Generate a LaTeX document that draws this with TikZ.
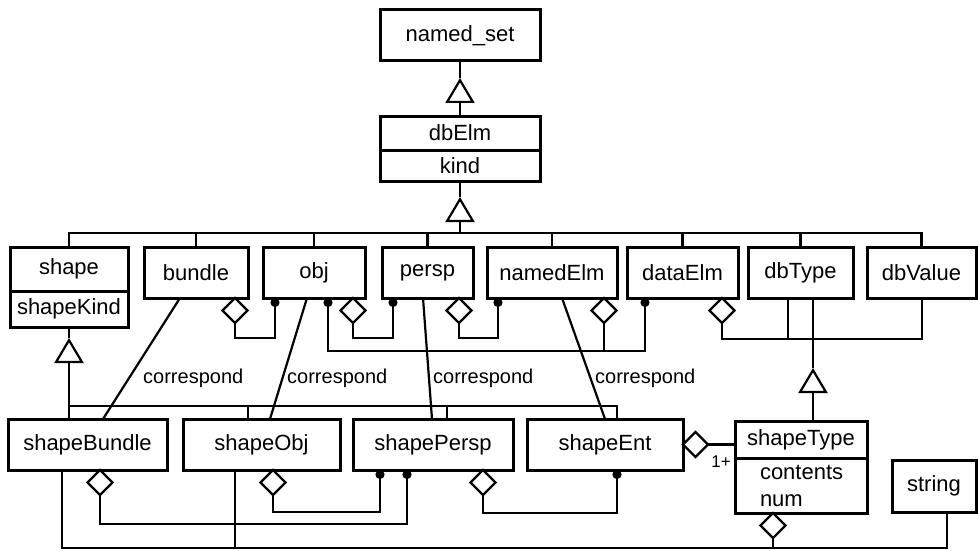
\documentclass[tikz,border=0pt]{standalone}
\usepackage{fontspec}
\setmainfont{Liberation Sans}
\usetikzlibrary{arrows.meta, shapes.geometric, positioning}

\begin{document}
\begin{tikzpicture}[x=1pt, y=-1pt, font=\fontsize{22}{27}\selectfont,
  cls/.style={draw, line width=3pt, inner sep=2pt, outer sep=0pt, minimum height=51pt},
  agg/.style={draw, diamond, aspect=1, line width=2.2pt, inner sep=0pt, outer sep=0pt, minimum width=25pt, minimum height=25pt},
  con/.style={line width=2.2pt},
  dot/.style={con, -{Circle[length=9pt]}},
  gen/.style={con, -{Triangle[open, length=25pt, width=29pt]}},
  corr/.style={font=\fontsize{20}{24}\selectfont, inner sep=1pt, anchor=west}]

\useasboundingbox (0,0) rectangle (978,551);

\node[cls, minimum width=160pt] (namedSet) at (460,35.5) {named\_set};
\node[cls, minimum width=160pt, minimum height=34pt] (dbElm) at (460,133) {dbElm};
\node[cls, minimum width=160pt, minimum height=31pt, below=0pt of dbElm] (kind) {kind};

\node[cls, minimum width=118pt, minimum height=44pt] (shape) at (69,269) {shape};
\node[cls, minimum width=118pt, minimum height=36pt, below=0pt of shape] (shapeKind) {shapeKind};
\node[cls, minimum width=104pt] (bundle) at (196,272.5) {bundle};
\node[cls, minimum width=102pt] (obj) at (314,272.5) {obj};
\node[cls, minimum width=91pt] (persp) at (427.5,272.5) {persp};
\node[cls, minimum width=130pt] (namedElm) at (552,272.5) {namedElm};
\node[cls, minimum width=111pt] (dataElm) at (682.5,272.5) {dataElm};
\node[cls, minimum width=105pt] (dbType) at (800.5,272.5) {dbType};
\node[cls, minimum width=109pt] (dbValue) at (921.5,272.5) {dbValue};

\node[cls, minimum width=159pt] (shapeBundle) at (87.5,444.5) {shapeBundle};
\node[cls, minimum width=157pt] (shapeObj) at (261.5,444.5) {shapeObj};
\node[cls, minimum width=160pt] (shapePersp) at (433,444.5) {shapePersp};
\node[cls, minimum width=156pt] (shapeEnt) at (605,444.5) {shapeEnt};
\node[cls, minimum width=132pt, minimum height=37pt] (shapeType) at (801,439.5) {shapeType};
\node[cls, minimum width=132pt, minimum height=55pt, text width=82pt, inner xsep=25pt, align=left, below=0pt of shapeType] (contents) {contents\\num};
\node[cls, minimum width=84pt, minimum height=52pt] (string) at (934,486) {string};

% named_set <- dbElm
\draw[con] (namedSet.south) -- ++(0,17) coordinate (t1);
\draw[gen] (dbElm.north) -- (t1);

% dbElm <- first row
\draw[con] (kind.south) -- ++(0,16) coordinate (t2);
\draw[gen] (kind.south |- 0,233) -- (t2);
\draw[con] (shape.north) -- ++(0,-14) -| (dbValue.north);
\foreach \n in {bundle, obj, persp, namedElm, dataElm, dbType}
  \draw[con] (\n.north) -- ++(0,-14);

% aggregations, first row
\node[agg, anchor=north] (aBundle) at (bundle.south -| 235,0) {};
\draw[dot] (aBundle.south) -- ++(0,15) -| (obj.south -| 275,0); %bundle-obj
\node[agg, anchor=north] (aObj) at (obj.south -| 353,0) {};
\draw[dot] (aObj.south) -- ++(0,15) -| (persp.south -| 393,0); %obj-persp
\node[agg, anchor=north] (aPersp) at (persp.south -| 459,0) {};
\draw[dot] (aPersp.south) -- ++(0,15) -| (namedElm.south -| 498,0); %persp-namedElm
\node[agg, anchor=north] (aNamed) at (namedElm.south -| 604,0) {};
\draw[con] (aNamed.south) -- ++(0,28) coordinate (b1);
\draw[dot] (b1) -| (obj.south -| 328,0); %namedElm-obj
\draw[dot] (b1) -| (dataElm.south -| 645,0); %namedElm-dataElm
\node[agg, anchor=north] (aData) at (dataElm.south -| 722,0) {};
\draw[con] (aData.south) -- ++(0,16) coordinate (b2) -| (dbValue.south -| 922,0); %dataElm-dbValue
\draw[con] (dbType.south -| 788,0) -- (b2 -| 788,0); %dataElm-dbType

% dbType <- shapeType
\draw[con] (dbType.south -| 813,0) -- ++(0,70) coordinate (t3);
\draw[gen] (shapeType.north -| 813,0) -- (t3);

% shape <- second row
\draw[con] (shapeKind.south) -- ++(0,11) coordinate (t4);
\draw[gen] (shapeBundle.north -| t4) -- (t4);
\draw[con] (t4 |- 0,406) -| (shapeEnt.north -| 617,0);
\draw[con] (shapeObj.north -| 248,0) -- ++(0,-13);
\draw[con] (shapePersp.north -| 447,0) -- ++(0,-13);

% correspond
\draw[con] (bundle.south -| 180,0) -- (shapeBundle.north -| 103,0);
\draw[con] (obj.south -| 307,0) -- (shapeObj.north -| 270,0);
\draw[con] (persp.south -| 423,0) -- (shapePersp.north -| 432,0);
\draw[con] (namedElm.south -| 562,0) -- (shapeEnt.north);
\node[corr] (cBundle) at (142,378) {correspond};
\node[corr] (cObj) at (286,378) {correspond};
\node[corr] (cPersp) at (432,378) {correspond};
\node[corr] (cEnt) at (594,378) {correspond};

% aggregations, second row
\node[agg, anchor=north] (aSBundle) at (shapeBundle.south -| 100,0) {};
\draw[dot] (aSBundle.south) -- ++(0,29) -| (shapePersp.south -| 407,0); %shapeBundle-shapePersp
\node[agg, anchor=north] (aSObj) at (shapeObj.south -| 273,0) {};
\draw[dot] (aSObj.south) -- ++(0,17) -| (shapePersp.south -| 380,0); %shapeObj-shapePersp
\node[agg, anchor=north] (aSPersp) at (shapePersp.south -| 483,0) {};
\draw[dot] (aSPersp.south) -- ++(0,18) -| (shapeEnt.south -| 617,0); %shapePersp-shapeEnt
\node[agg, anchor=west] (aSEnt) at (shapeEnt.east) {};
\draw[con] (aSEnt.east) -- (aSEnt.east -| shapeType.west); %shapeEnt-shapeType
\node[font=\fontsize{17}{19}\selectfont, inner sep=0pt] (mult) at (721,462) {1+};

% bottom line
\draw[con] (shapeBundle.south -| 62,0) -- (62,548) -| (string.south -| 947,0);
\draw[con] (shapeObj.south -| 235,0) -- (235,548);
\node[agg, anchor=north] (aSType) at (contents.south -| 773,0) {};
\draw[con] (aSType.south) -- (773,548);

\end{tikzpicture}
\end{document}
